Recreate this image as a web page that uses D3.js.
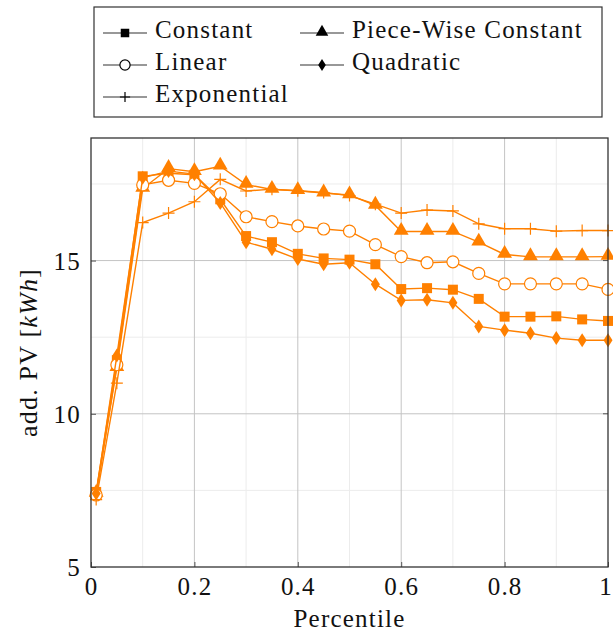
<!DOCTYPE html>
<html>
<head>
<meta charset="utf-8">
<script src="https://cdn.jsdelivr.net/npm/d3@7"></script>
<style>
  body { margin: 0; background: #fff; }
  text { font-family: "Liberation Serif", "DejaVu Serif", serif; letter-spacing: 1.2px; }
</style>
</head>
<body>
<div id="chart-area"></div>
<script>
// percentile positions
var percentiles = [0.01, 0.05, 0.1, 0.15, 0.2, 0.25, 0.3, 0.35, 0.4, 0.45, 0.5,
  0.55, 0.6, 0.65, 0.7, 0.75, 0.8, 0.85, 0.9, 0.95, 1.0];

var constant = [7.45, 11.75, 17.75, 17.85, 17.8, 17.0, 15.8, 15.6, 15.22, 15.07, 15.03,
  14.88, 14.07, 14.1, 14.05, 13.75, 13.17, 13.17, 13.18, 13.08, 13.03];
var pieceWise = [7.4, 11.5, 17.35, 18.0, 17.9, 18.08, 17.48, 17.32, 17.28, 17.2, 17.14,
  16.8, 15.95, 15.95, 15.95, 15.6, 15.2, 15.12, 15.12, 15.12, 15.13];
var linear = [7.35, 11.6, 17.47, 17.62, 17.52, 17.18, 16.43, 16.27, 16.13, 16.03, 15.96,
  15.52, 15.13, 14.93, 14.96, 14.58, 14.24, 14.24, 14.24, 14.24, 14.06];
var quadratic = [7.4, 11.9, 17.7, 17.92, 17.82, 16.88, 15.6, 15.37, 15.05, 14.88, 14.93,
  14.23, 13.7, 13.72, 13.62, 12.85, 12.73, 12.63, 12.47, 12.4, 12.4];
var exponential = [7.2, 11.0, 16.24, 16.55, 16.92, 17.65, 17.27, 17.33, 17.28, 17.22, 17.12,
  16.84, 16.55, 16.65, 16.62, 16.2, 16.04, 16.04, 15.96, 15.98, 15.98];

var xTicks = [0, 0.2, 0.4, 0.6, 0.8, 1];
var xTickLabels = ["0", "0.2", "0.4", "0.6", "0.8", "1"];
var yTicks = [5, 10, 15];

var series = [
  { name: "Constant", values: constant, mark: "square" },
  { name: "Piece-Wise Constant", values: pieceWise, mark: "triangle" },
  { name: "Linear", values: linear, mark: "circle" },
  { name: "Quadratic", values: quadratic, mark: "diamond" },
  { name: "Exponential", values: exponential, mark: "plus" }
];

var orange = "#ff8000";
var width = 613, height = 635;
var margin = { top: 138, right: 5, bottom: 68, left: 91 };
var plotW = width - margin.left - margin.right;
var plotH = height - margin.top - margin.bottom;

var svg = d3.select("#chart-area")
  .append("svg")
  .attr("width", width)
  .attr("height", height);

var g = svg.append("g")
  .attr("transform", "translate(" + margin.left + "," + margin.top + ")");

var x = d3.scaleLinear().domain([0, 1]).range([0, plotW]);
var y = d3.scaleLinear().domain([5, 19]).range([plotH, 0]);

// grid: minor then major
g.selectAll(".xminor").data(d3.range(0.1, 1, 0.2)).enter().append("line")
  .attr("x1", d => x(d)).attr("x2", d => x(d))
  .attr("y1", 0).attr("y2", plotH)
  .style("stroke", "#ececec").style("stroke-width", 1);
g.selectAll(".yminor").data([7.5, 12.5, 17.5]).enter().append("line")
  .attr("x1", 0).attr("x2", plotW)
  .attr("y1", d => y(d)).attr("y2", d => y(d))
  .style("stroke", "#ececec").style("stroke-width", 1);
g.selectAll(".xmajor").data(xTicks.slice(1, -1)).enter().append("line")
  .attr("x1", d => x(d)).attr("x2", d => x(d))
  .attr("y1", 0).attr("y2", plotH)
  .style("stroke", "#c4c4c4").style("stroke-width", 1);
g.selectAll(".ymajor").data(yTicks.slice(1)).enter().append("line")
  .attr("x1", 0).attr("x2", plotW)
  .attr("y1", d => y(d)).attr("y2", d => y(d))
  .style("stroke", "#c4c4c4").style("stroke-width", 1);

// axes with inward ticks
var xAxisG = g.append("g")
  .attr("transform", "translate(0," + plotH + ")")
  .call(d3.axisBottom(x).tickValues(xTicks).tickFormat((d, i) => xTickLabels[i])
    .tickSizeInner(-5).tickSizeOuter(0).tickPadding(10));
var yAxisG = g.append("g")
  .call(d3.axisLeft(y).tickValues(yTicks).tickSizeInner(-5).tickSizeOuter(0).tickPadding(10));

[xAxisG, yAxisG].forEach(a => {
  a.select(".domain").remove();
  a.selectAll(".tick line").style("stroke", "#555");
  a.selectAll("text").style("font-size", "25px").style("fill", "#111")
    .style("font-family", "'Liberation Serif', serif");
});
xAxisG.selectAll("text").attr("dy", "0.7em");
yAxisG.selectAll("text").attr("dy", "0.35em");
// keep the last label inside the page
xAxisG.selectAll(".tick text").filter(d => d === 1).attr("dx", "-0.1em");

// right-side ticks
g.selectAll(".rtick").data(yTicks.slice(1)).enter().append("line")
  .attr("x1", plotW - 5).attr("x2", plotW)
  .attr("y1", d => y(d)).attr("y2", d => y(d))
  .style("stroke", "#555");

var line = d3.line()
  .x((d, i) => x(percentiles[i]))
  .y(d => y(d));

function drawMark(sel, mark, size) {
  var s = size || 1;
  if (mark === "square") {
    sel.append("rect").attr("x", -5 * s).attr("y", -5 * s)
      .attr("width", 10 * s).attr("height", 10 * s).style("fill", sel.attr("data-c"));
  } else if (mark === "triangle") {
    sel.append("path").attr("d", d3.symbol().type(d3.symbolTriangle).size(95 * s * s))
      .attr("transform", "translate(0,-1)").style("fill", sel.attr("data-c"));
  } else if (mark === "circle") {
    sel.append("circle").attr("r", 6 * s).style("fill", "#fff")
      .style("stroke", sel.attr("data-c")).style("stroke-width", 1.2);
  } else if (mark === "diamond") {
    sel.append("path").attr("d", "M0," + (-7 * s) + "L" + (4.5 * s) + ",0L0," + (7 * s) + "L" + (-4.5 * s) + ",0Z")
      .style("fill", sel.attr("data-c"));
  } else if (mark === "plus") {
    sel.append("path").attr("d", "M" + (-6 * s) + ",0H" + (6 * s) + "M0," + (-6 * s) + "V" + (6 * s))
      .style("fill", "none").style("stroke", sel.attr("data-c")).style("stroke-width", 1.2);
  }
}

var plotArea = g.append("g");
series.forEach(s => {
  var sg = plotArea.append("g");
  sg.append("path").datum(s.values)
    .attr("d", line)
    .style("fill", "none").style("stroke", orange).style("stroke-width", 1.4);
  sg.selectAll(".m").data(s.values).enter().append("g")
    .attr("data-c", orange)
    .attr("transform", (d, i) => "translate(" + x(percentiles[i]) + "," + y(d) + ")")
    .each(function () { drawMark(d3.select(this), s.mark); });
});

// frame
g.append("rect").attr("width", plotW).attr("height", plotH)
  .style("fill", "none").style("stroke", "#333").style("stroke-width", 1.3);

// axis labels
svg.append("text")
  .attr("x", margin.left + plotW / 2).attr("y", 627)
  .attr("text-anchor", "middle").style("font-size", "25px").style("fill", "#111")
  .text("Percentile");

var yl = svg.append("text")
  .attr("transform", "translate(37," + (margin.top + plotH / 2) + ") rotate(-90)")
  .attr("text-anchor", "middle").style("font-size", "26px").style("fill", "#111");
yl.append("tspan").text("add. PV [");
yl.append("tspan").style("font-style", "italic").text("kWh");
yl.append("tspan").text("]");

// legend
var lg = svg.append("g");
lg.append("rect").attr("x", 94).attr("y", 7).attr("width", 508).attr("height", 110)
  .style("fill", "#fff").style("stroke", "#333").style("stroke-width", 1.2);

var legendPos = [
  { x: 103, y: 33 }, { x: 300, y: 33 },
  { x: 103, y: 65 }, { x: 300, y: 65 },
  { x: 103, y: 97 }
];
series.forEach((s, i) => {
  var p = legendPos[i];
  var e = lg.append("g").attr("transform", "translate(" + p.x + "," + p.y + ")");
  e.append("line").attr("x1", 0).attr("x2", 44).style("stroke", "#333").style("stroke-width", 1.2);
  var m = e.append("g").attr("transform", "translate(22,0)").attr("data-c", "#000");
  drawMark(m, s.mark, 0.85);
  e.append("text").attr("x", 52).attr("y", 4.5)
    .style("font-size", "25px").style("fill", "#111").text(s.name);
});
</script>
</body>
</html>
